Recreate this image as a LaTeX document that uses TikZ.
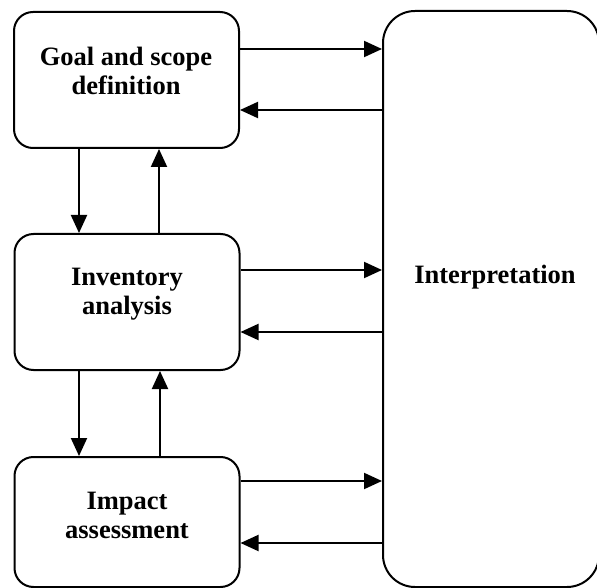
\documentclass[tikz,border=0pt]{standalone}
\usepackage{fontspec}
\setmainfont{Liberation Serif}
\usetikzlibrary{arrows.meta}
\begin{document}
\begin{tikzpicture}[x=1pt,y=-1pt,
  stagebox/.style={draw, line width=2pt, rounded corners=19pt, minimum width=225pt, minimum height=136pt, inner sep=0pt},
  lbl/.style={font=\bfseries\fontsize{26.5}{29}\selectfont, align=center, inner sep=0pt},
  arr/.style={line width=2pt, -{Triangle[length=18pt,width=16pt]}}]
\useasboundingbox (0,0) rectangle (597,588);
\node[stagebox] (b1) at (126.5,80) {};
\node[stagebox] (b2) at (127,302) {};
\node[stagebox, minimum height=130pt] (b3) at (127,522) {};
\node[draw, line width=2pt, rounded corners=32pt, minimum width=216pt, minimum height=576pt, inner sep=0pt] (int) at (491,299) {};
\node[lbl] (t1) at (126,71) {Goal and scope\\definition};
\node[lbl] (t2) at (127,294) {Inventory\\analysis};
\node[lbl] (t3) at (127,515) {Impact\\assessment};
\node[lbl] (t4) at (495,277) {Interpretation};
% horizontal
\draw[arr] (b1.east |- 0,49) -- (int.west |- 0,49);
\draw[arr] (int.west |- 0,110) -- (b1.east |- 0,110);
\draw[arr] (b2.east |- 0,270) -- (int.west |- 0,270);
\draw[arr] (int.west |- 0,332) -- (b2.east |- 0,332);
\draw[arr] (b3.east |- 0,481) -- (int.west |- 0,481);
\draw[arr] (int.west |- 0,543) -- (b3.east |- 0,543);
% vertical
\draw[arr] (b1.south -| 79,0) -- (b2.north -| 79,0);
\draw[arr] (b2.north -| 159,0) -- (b1.south -| 159,0);
\draw[arr] (b2.south -| 79,0) -- (b3.north -| 79,0);
\draw[arr] (b3.north -| 160,0) -- (b2.south -| 160,0);
\end{tikzpicture}
\end{document}
